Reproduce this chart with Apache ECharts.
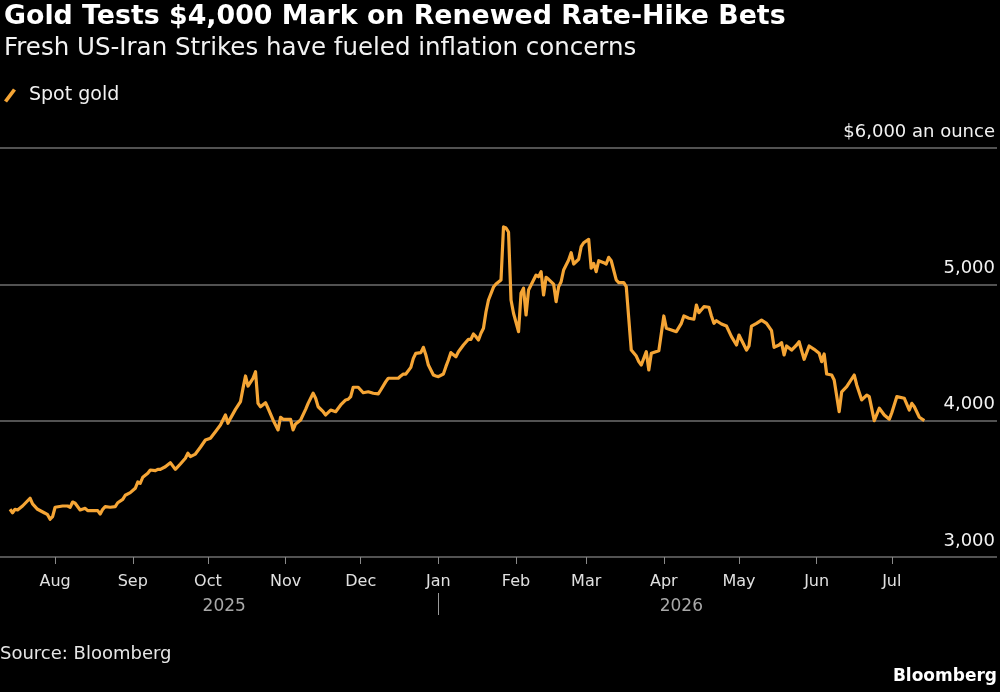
<!DOCTYPE html>
<html>
<head>
<meta charset="utf-8">
<script src="https://cdn.jsdelivr.net/npm/echarts@6/dist/echarts.min.js"></script>
<style>
  html, body { margin: 0; padding: 0; background: #000; }
  #chart { width: 1000px; height: 692px; }
</style>
</head>
<body>
<div id="chart"></div>
<script>
// Spot gold (USD an ounce)
const dates = [
    '2025-07-14', '2025-07-15', '2025-07-16', '2025-07-17', '2025-07-19', '2025-07-22', '2025-07-23', '2025-07-25',
    '2025-07-28', '2025-07-29', '2025-07-30', '2025-07-31', '2025-08-01', '2025-08-04', '2025-08-06', '2025-08-07',
    '2025-08-08', '2025-08-09', '2025-08-11', '2025-08-13', '2025-08-14', '2025-08-16', '2025-08-18', '2025-08-19',
    '2025-08-20', '2025-08-21', '2025-08-23', '2025-08-25', '2025-08-26', '2025-08-28', '2025-08-29', '2025-08-31',
    '2025-09-02', '2025-09-03', '2025-09-04', '2025-09-05', '2025-09-07', '2025-09-08', '2025-09-10', '2025-09-11',
    '2025-09-12', '2025-09-14', '2025-09-16', '2025-09-18', '2025-09-20', '2025-09-22', '2025-09-23', '2025-09-24',
    '2025-09-26', '2025-09-28', '2025-09-30', '2025-10-02', '2025-10-04', '2025-10-06', '2025-10-08', '2025-10-09',
    '2025-10-10', '2025-10-12', '2025-10-14', '2025-10-15', '2025-10-16', '2025-10-17', '2025-10-19', '2025-10-20',
    '2025-10-21', '2025-10-22', '2025-10-24', '2025-10-25', '2025-10-27', '2025-10-29', '2025-10-30', '2025-10-31',
    '2025-11-03', '2025-11-04', '2025-11-05', '2025-11-07', '2025-11-09', '2025-11-10', '2025-11-12', '2025-11-13',
    '2025-11-14', '2025-11-16', '2025-11-17', '2025-11-19', '2025-11-21', '2025-11-23', '2025-11-25', '2025-11-26',
    '2025-11-27', '2025-11-28', '2025-11-30', '2025-12-01', '2025-12-02', '2025-12-04', '2025-12-06', '2025-12-08',
    '2025-12-09', '2025-12-11', '2025-12-12', '2025-12-16', '2025-12-17', '2025-12-18', '2025-12-19', '2025-12-21',
    '2025-12-22', '2025-12-23', '2025-12-25', '2025-12-26', '2025-12-27', '2025-12-28', '2025-12-30', '2025-12-31',
    '2026-01-01', '2026-01-03', '2026-01-04', '2026-01-05', '2026-01-06', '2026-01-08', '2026-01-09', '2026-01-11',
    '2026-01-13', '2026-01-14', '2026-01-15', '2026-01-16', '2026-01-17', '2026-01-18', '2026-01-19', '2026-01-20',
    '2026-01-21', '2026-01-23', '2026-01-24', '2026-01-25', '2026-01-26', '2026-01-27', '2026-01-28', '2026-01-29',
    '2026-01-30', '2026-01-31', '2026-02-02', '2026-02-03', '2026-02-04', '2026-02-05', '2026-02-06', '2026-02-07',
    '2026-02-09', '2026-02-10', '2026-02-11', '2026-02-12', '2026-02-13', '2026-02-14', '2026-02-16', '2026-02-17',
    '2026-02-18', '2026-02-19', '2026-02-20', '2026-02-22', '2026-02-23', '2026-02-24', '2026-02-26', '2026-02-27',
    '2026-02-28', '2026-03-02', '2026-03-03', '2026-03-04', '2026-03-05', '2026-03-06', '2026-03-08', '2026-03-09',
    '2026-03-10', '2026-03-11', '2026-03-13', '2026-03-14', '2026-03-16', '2026-03-17', '2026-03-19', '2026-03-21',
    '2026-03-22', '2026-03-23', '2026-03-25', '2026-03-26', '2026-03-27', '2026-03-30', '2026-04-01', '2026-04-02',
    '2026-04-06', '2026-04-08', '2026-04-09', '2026-04-11', '2026-04-13', '2026-04-14', '2026-04-15', '2026-04-17',
    '2026-04-19', '2026-04-20', '2026-04-21', '2026-04-22', '2026-04-24', '2026-04-26', '2026-04-28', '2026-04-30',
    '2026-05-01', '2026-05-02', '2026-05-04', '2026-05-05', '2026-05-06', '2026-05-08', '2026-05-10', '2026-05-12',
    '2026-05-14', '2026-05-15', '2026-05-17', '2026-05-18', '2026-05-19', '2026-05-20', '2026-05-22', '2026-05-24',
    '2026-05-25', '2026-05-27', '2026-05-29', '2026-05-31', '2026-06-02', '2026-06-03', '2026-06-04', '2026-06-05',
    '2026-06-07', '2026-06-08', '2026-06-10', '2026-06-11', '2026-06-13', '2026-06-16', '2026-06-17', '2026-06-19',
    '2026-06-21', '2026-06-22', '2026-06-24', '2026-06-26', '2026-06-28', '2026-06-30', '2026-07-01', '2026-07-03',
    '2026-07-06', '2026-07-08', '2026-07-09', '2026-07-10', '2026-07-12', '2026-07-14'
];
const prices = [
    3350, 3325, 3350, 3345, 3374, 3431, 3389, 3350,
    3321, 3310, 3277, 3296, 3365, 3374, 3374, 3365,
    3403, 3394, 3345, 3357, 3340, 3340, 3340, 3315,
    3350, 3369, 3365, 3369, 3398, 3423, 3453, 3472,
    3504, 3550, 3541, 3585, 3614, 3638, 3633, 3643,
    3643, 3662, 3692, 3643, 3682, 3724, 3761, 3736,
    3755, 3805, 3858, 3871, 3919, 3968, 4042, 3981,
    4017, 4083, 4139, 4237, 4328, 4254, 4311, 4359,
    4127, 4102, 4132, 4091, 4005, 3932, 4025, 4010,
    4010, 3932, 3976, 4005, 4083, 4127, 4201, 4164,
    4102, 4066, 4042, 4078, 4066, 4115, 4152, 4157,
    4176, 4245, 4245, 4225, 4205, 4212, 4201, 4196,
    4225, 4286, 4311, 4311, 4328, 4342, 4342, 4391,
    4457, 4494, 4499, 4538, 4482, 4408, 4335, 4328,
    4323, 4342, 4396, 4445, 4499, 4469, 4506, 4555,
    4597, 4597, 4636, 4616, 4592, 4641, 4678, 4797,
    4885, 4980, 5002, 5017, 5032, 5421, 5413, 5384,
    4885, 4788, 4653, 4934, 4971, 4775, 4958, 4995,
    5068, 5056, 5093, 4922, 5052, 5037, 5002, 4873,
    4983, 5019, 5105, 5178, 5232, 5149, 5184, 5276,
    5305, 5330, 5118, 5154, 5093, 5173, 5159, 5149,
    5198, 5173, 5032, 5012, 5012, 4983, 4518, 4474,
    4433, 4408, 4506, 4372, 4494, 4513, 4768, 4678,
    4653, 4714, 4768, 4751, 4744, 4848, 4792, 4836,
    4832, 4768, 4714, 4733, 4709, 4694, 4616, 4555,
    4628, 4592, 4518, 4548, 4694, 4714, 4738, 4714,
    4660, 4538, 4555, 4572, 4482, 4548, 4518, 4555,
    4579, 4450, 4548, 4523, 4494, 4433, 4489, 4342,
    4335, 4298, 4066, 4212, 4249, 4335, 4262, 4152,
    4188, 4176, 4000, 4091, 4042, 4010, 4058, 4176,
    4164, 4078, 4127, 4102, 4025, 4000
];

// x axis: month ticks and the year break
const monthTicks = [
    '2025-08-01', '2025-09-01', '2025-10-01', '2025-11-01', '2025-12-01', '2026-01-01',
    '2026-02-01', '2026-03-01', '2026-04-01', '2026-05-01', '2026-06-01', '2026-07-01'
];
const monthNames = ['Jan', 'Feb', 'Mar', 'Apr', 'May', 'Jun', 'Jul', 'Aug', 'Sep', 'Oct', 'Nov', 'Dec'];
const yearBreak = '2026-01-01';
const axisStart = '2025-07-10';
const axisEnd = '2026-08-12';

// y axis
const yTicks = [3000, 4000, 5000, 6000];

function toTime(s) {
    const p = s.split('-').map(Number);
    return new Date(p[0], p[1] - 1, p[2]).getTime();
}

const seriesData = dates.map((d, i) => [toTime(d), prices[i]]);
const breakTime = toTime(yearBreak);
const firstTime = toTime(dates[0]);
const lastTime = toTime(dates[dates.length - 1]);
// year labels sit in the middle of each year's stretch of data
const yearLabelTimes = [(firstTime + breakTime) / 2, (breakTime + lastTime) / 2];

const FONT = 'DejaVu Sans';
const chart = echarts.init(document.getElementById('chart'));

chart.setOption({
    backgroundColor: '#000',
    animation: false,
    title: [
        {
            text: 'Gold Tests $4,000 Mark on Renewed Rate-Hike Bets',
            left: 0,
            top: 2,
            padding: [0, 0, 0, 4],
            textStyle: { color: '#fff', fontFamily: FONT, fontWeight: 'bold', fontSize: 26.8, lineHeight: 30 }
        },
        {
            text: 'Fresh US-Iran Strikes have fueled inflation concerns',
            left: 0,
            top: 35,
            padding: [0, 0, 0, 4],
            textStyle: { color: '#f2f2f2', fontFamily: FONT, fontWeight: 'normal', fontSize: 24.5, lineHeight: 28 }
        },
        {
            text: 'Source: Bloomberg',
            left: 0,
            top: 643,
            padding: 0,
            textStyle: { color: '#e6e6e6', fontFamily: FONT, fontWeight: 'normal', fontSize: 18, lineHeight: 22 }
        },
        {
            text: 'Bloomberg',
            right: 3,
            top: 666,
            padding: 0,
            textStyle: { color: '#fff', fontFamily: FONT, fontWeight: 'bold', fontSize: 17, lineHeight: 21 }
        }
    ],
    legend: {
        data: ['Spot gold'],
        left: 4,
        top: 86,
        padding: 0,
        icon: 'path://M0,12 L9,0 L12,2 L3,14 Z',
        itemWidth: 12,
        itemHeight: 14,
        textStyle: { color: '#f2f2f2', fontFamily: FONT, fontSize: 19, padding: [0, 0, 0, 8] }
    },
    grid: {
        left: 0,
        right: 3,
        top: 148,
        bottom: 135,
        containLabel: false
    },
    xAxis: [
        {
            type: 'value',
            min: toTime(axisStart),
            max: toTime(axisEnd),
            axisLine: { show: false },
            axisTick: {
                show: true,
                length: 7,
                customValues: monthTicks.map(toTime),
                lineStyle: { color: '#8a8a8a', width: 1 }
            },
            axisLabel: {
                customValues: monthTicks.map(toTime),
                formatter: function (value) {
                    return monthNames[new Date(value).getMonth()];
                },
                color: '#e0e0e0',
                fontFamily: FONT,
                fontSize: 16,
                margin: 17
            },
            splitLine: { show: false }
        },
        {
            type: 'value',
            position: 'bottom',
            offset: 36,
            min: toTime(axisStart),
            max: toTime(axisEnd),
            axisLine: { show: false },
            axisTick: {
                show: true,
                length: 22,
                inside: false,
                customValues: [breakTime],
                lineStyle: { color: '#9a9a9a', width: 1 }
            },
            axisLabel: {
                customValues: yearLabelTimes,
                formatter: function (value) {
                    return String(new Date(value).getFullYear());
                },
                color: '#a8a8a8',
                fontFamily: FONT,
                fontSize: 17,
                margin: 5
            },
            splitLine: { show: false }
        }
    ],
    yAxis: {
        type: 'value',
        position: 'right',
        min: yTicks[0],
        max: yTicks[yTicks.length - 1],
        interval: 1000,
        axisLine: { show: false },
        axisTick: { show: false },
        axisLabel: {
            inside: true,
            margin: 2,
            verticalAlign: 'bottom',
            padding: [0, 0, 7, 0],
            color: '#f2f2f2',
            fontFamily: FONT,
            fontSize: 18,
            formatter: function (value) {
                const s = value.toLocaleString('en-US');
                return value === yTicks[yTicks.length - 1] ? '$' + s + ' an ounce' : s;
            }
        },
        splitLine: { show: true, lineStyle: { color: '#6e6e6e', width: 1.5 } }
    },
    series: [
        {
            name: 'Spot gold',
            type: 'line',
            xAxisIndex: 0,
            data: seriesData,
            showSymbol: false,
            symbol: 'none',
            smooth: false,
            lineStyle: { color: '#f5a535', width: 3.2, join: 'round' },
            itemStyle: { color: '#f5a535' }
        }
    ]
});
</script>
</body>
</html>
